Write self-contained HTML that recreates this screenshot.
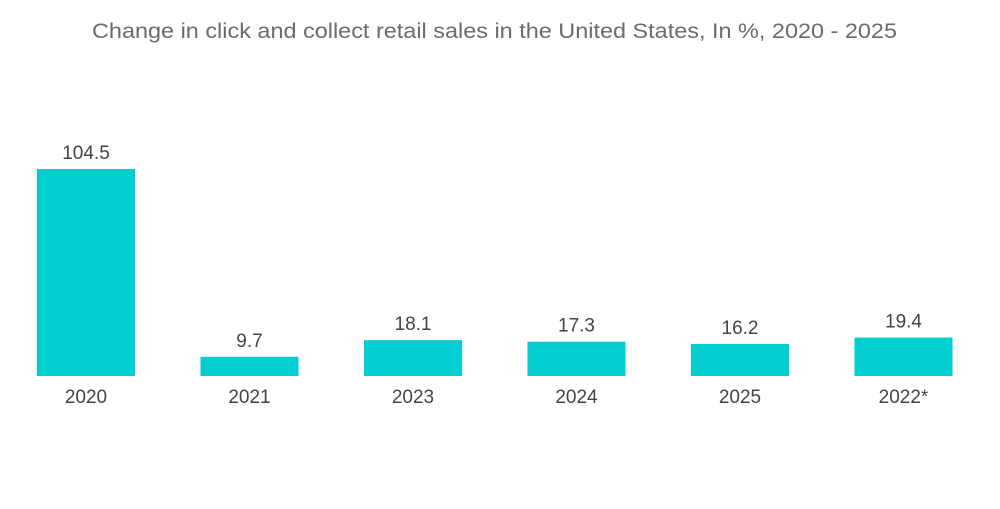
<!DOCTYPE html>
<html><head><meta charset="utf-8">
<style>
body{margin:0;background:#fff;width:1000px;height:504px;overflow:hidden;font-family:"Liberation Sans",sans-serif;}
</style></head>
<body>
<svg width="1000" height="504">
<text x="92" y="38" textLength="805" lengthAdjust="spacingAndGlyphs" font-size="21" fill="#6b6b6b">Change in click and collect retail sales in the United States, In %,  2020 - 2025</text>
<g id="bars"></g>
</svg>
<script>
const categories=["2020","2021","2023","2024","2025","2022*"];
const values=[104.5,9.7,18.1,17.3,16.2,19.4];
const baseY=376, scale=207/104.5, x0=37, step=163.5, bw=98;
const y=v=>baseY-v*scale;
const g=document.getElementById('bars');
const ns="http://www.w3.org/2000/svg";
categories.forEach((c,i)=>{
 const x=x0+i*step;
 const r=document.createElementNS(ns,'rect');
 r.setAttribute('x',x);r.setAttribute('y',y(values[i]));r.setAttribute('width',bw);r.setAttribute('height',baseY-y(values[i]));r.setAttribute('fill','#00ced1');
 
 
 g.appendChild(r);
 const t=document.createElementNS(ns,'text');
 t.setAttribute('x',x+bw/2);t.setAttribute('y',y(values[i])-10);t.setAttribute('text-anchor','middle');t.setAttribute('font-size','19');t.setAttribute('fill','#444');
 t.textContent=values[i];
 
 
 g.appendChild(t);
 const l=document.createElementNS(ns,'text');
 l.setAttribute('x',x+bw/2);l.setAttribute('y',403);l.setAttribute('text-anchor','middle');l.setAttribute('font-size','19');l.setAttribute('fill','#444');
 l.textContent=c;
 
 
 g.appendChild(l);
});
</script>
</body></html>
